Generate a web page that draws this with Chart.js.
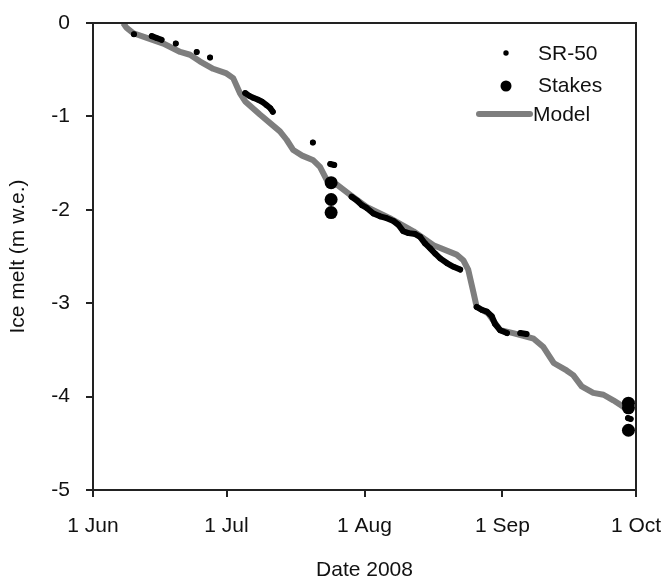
<!DOCTYPE html>
<html>
<head>
<meta charset="utf-8">
<script src="https://cdn.jsdelivr.net/npm/chart.js@4.4.1/dist/chart.umd.min.js"></script>
<style>
  html, body { margin: 0; padding: 0; background: #fff; }
  #wrap { width: 662px; height: 581px; position: relative; }
</style>
</head>
<body>
<div id="wrap"><canvas id="melt"></canvas></div>
<script>
// Días desde el 1 de junio de 2008
var tickDays   = [0, 30, 61, 92, 122];
var tickLabels = ['1 Jun', '1 Jul', '1 Aug', '1 Sep', '1 Oct'];

// Modelo (línea gris)
var modelDays = [6.8, 7.5, 9.1, 12.1, 15.8, 19.6, 21.8, 24.0, 27.0, 30.0, 31.5, 33.0, 34.2, 37.5, 40.0,
                 42.0, 43.5, 45.0, 47.0, 49.5, 51.0, 52.5, 54.8, 57.8, 61.5, 66.7, 72.0, 76.5, 81.7,
                 83.2, 84.3, 85.5, 86.2, 88.8, 91.5, 94.4, 99.0, 101.2, 103.5, 106.4, 107.9, 109.8,
                 112.4, 114.7, 116.9, 119.2, 120.3];
var modelMelt = [0, -0.05, -0.11, -0.16, -0.22, -0.31, -0.34, -0.41, -0.49, -0.54, -0.59, -0.75, -0.84, -0.98, -1.08,
                 -1.16, -1.25, -1.36, -1.42, -1.47, -1.54, -1.68, -1.73, -1.84, -1.97, -2.09, -2.23, -2.38, -2.48,
                 -2.54, -2.64, -2.89, -3.04, -3.11, -3.29, -3.32, -3.38, -3.47, -3.64, -3.72, -3.77, -3.89,
                 -3.96, -3.98, -4.04, -4.11, -4.14];

// SR-50 (null = corte entre tramos)
var srDays = [9.2, null, 13.2, 14.3, 15.4, null, 18.6, null, 23.3, null, 26.3, null,
              34.2, 35.1, 36.0, 37.0, 37.9, 39.0, 39.8, 40.4, null, 49.4, null, 53.3, 54.2, null,
              58.1, 59.3, 60.4, 61.5, 63.0, 64.5, 66.0, 67.5, 68.6, 69.7, 70.9, 72.4, 73.5, 74.6,
              75.7, 76.9, 78.0, 79.5, 81.0, 82.5, null,
              86.2, 87.3, 88.5, 89.6, 90.3, 91.5, 93.0, null, 96.0, 97.4, null, 120.2, 120.8];
var srMelt = [-0.12, null, -0.14, -0.16, -0.18, null, -0.22, null, -0.31, null, -0.37, null,
              -0.75, -0.78, -0.80, -0.82, -0.84, -0.88, -0.91, -0.95, null, -1.28, null, -1.51, -1.52, null,
              -1.86, -1.90, -1.95, -1.98, -2.04, -2.07, -2.09, -2.12, -2.16, -2.23, -2.25, -2.26, -2.29, -2.36,
              -2.41, -2.47, -2.52, -2.57, -2.61, -2.64, null,
              -3.04, -3.07, -3.09, -3.14, -3.22, -3.29, -3.32, null, -3.32, -3.33, null, -4.23, -4.24];

// Estacas
var stakeDays = [53.5, 53.5, 53.5, 120.3, 120.3, 120.3];
var stakeMelt = [-1.71, -1.89, -2.03, -4.07, -4.12, -4.36];

function toXY(xs, ys) {
    return xs.map(function(x, i) { return (x === null) ? { x: NaN, y: null } : { x: x, y: ys[i] }; });
}

var FONT = '"Liberation Sans", Arial, sans-serif';
var GRAY = '#7e7e7e';

// leyenda dibujada dentro del área, arriba a la derecha
var legendPlugin = {
    id: 'meltLegend',
    afterDatasetsDraw: function(chart) {
        var ctx = chart.ctx;
        ctx.save();
        ctx.fillStyle = '#000';
        ctx.beginPath(); ctx.arc(506, 53, 2.7, 0, Math.PI * 2); ctx.fill();
        ctx.beginPath(); ctx.arc(506, 86, 5.5, 0, Math.PI * 2); ctx.fill();
        ctx.strokeStyle = GRAY; ctx.lineWidth = 6; ctx.lineCap = 'round';
        ctx.beginPath(); ctx.moveTo(479, 114); ctx.lineTo(530, 114); ctx.stroke();
        ctx.fillStyle = '#111';
        ctx.font = '21px ' + FONT;
        ctx.textAlign = 'left'; ctx.textBaseline = 'middle';
        ctx.fillText('SR-50', 538, 54);
        ctx.fillText('Stakes', 538, 86);
        ctx.fillText('Model', 533, 115);
        ctx.restore();
    },
    afterDraw: function(chart) {
        // marco superior y derecho
        var a = chart.chartArea, ctx = chart.ctx;
        ctx.save();
        ctx.strokeStyle = '#222'; ctx.lineWidth = 2;
        ctx.beginPath();
        ctx.moveTo(a.left, a.top); ctx.lineTo(a.right, a.top); ctx.lineTo(a.right, a.bottom);
        ctx.stroke();
        ctx.restore();
    }
};

new Chart(document.getElementById('melt'), {
    type: 'scatter',
    data: {
        datasets: [{
            label: 'Stakes',
            data: toXY(stakeDays, stakeMelt),
            showLine: false,
            pointRadius: 6.5,
            pointBackgroundColor: '#000',
            pointBorderWidth: 0,
            order: 0
        }, {
            label: 'SR-50',
            data: toXY(srDays, srMelt),
            showLine: true,
            spanGaps: false,
            borderColor: '#000',
            borderWidth: 6,
            borderCapStyle: 'round',
            borderJoinStyle: 'round',
            pointRadius: 2.8,
            pointBackgroundColor: '#000',
            pointBorderWidth: 0,
            order: 1
        }, {
            label: 'Model',
            data: toXY(modelDays, modelMelt),
            showLine: true,
            borderColor: GRAY,
            borderWidth: 6,
            borderJoinStyle: 'round',
            pointRadius: 0,
            order: 2
        }]
    },
    options: {
        responsive: true,
        maintainAspectRatio: false,
        animation: false,
        layout: { padding: { top: 23, right: 26, left: 0, bottom: 0 } },
        plugins: { legend: { display: false }, tooltip: { enabled: false } },
        scales: {
            x: {
                type: 'linear',
                min: 0, max: 122,
                afterBuildTicks: function(scale) {
                    scale.ticks = tickDays.map(function(v) { return { value: v }; });
                },
                afterFit: function(scale) { scale.height = 91; scale.paddingLeft = 0; scale.paddingRight = 0; },
                ticks: {
                    autoSkip: false, maxRotation: 0,
                    padding: 17,
                    color: '#111',
                    font: { family: FONT, size: 21 },
                    callback: function(v) { var i = tickDays.indexOf(v); return i >= 0 ? tickLabels[i] : ''; }
                },
                grid: { drawOnChartArea: false, drawTicks: true, tickLength: 7, color: '#222', lineWidth: 2 },
                border: { color: '#222', width: 2 },
                title: {
                    display: true, text: 'Date 2008', color: '#111',
                    font: { family: FONT, size: 21, lineHeight: 1 },
                    padding: { top: 0, bottom: 0 }
                }
            },
            y: {
                min: -5, max: 0,
                afterFit: function(scale) { scale.width = 93; scale.paddingTop = 0; scale.paddingBottom = 0; },
                ticks: {
                    stepSize: 1, padding: 16, color: '#111',
                    font: { family: FONT, size: 21 }
                },
                grid: { drawOnChartArea: false, drawTicks: true, tickLength: 7, color: '#222', lineWidth: 2 },
                border: { color: '#222', width: 2 },
                title: {
                    display: true, text: 'Ice melt (m w.e.)', color: '#111',
                    font: { family: FONT, size: 21, lineHeight: 1 },
                    padding: { top: 8, bottom: 0 }
                }
            }
        }
    },
    plugins: [legendPlugin]
});
</script>
</body>
</html>
